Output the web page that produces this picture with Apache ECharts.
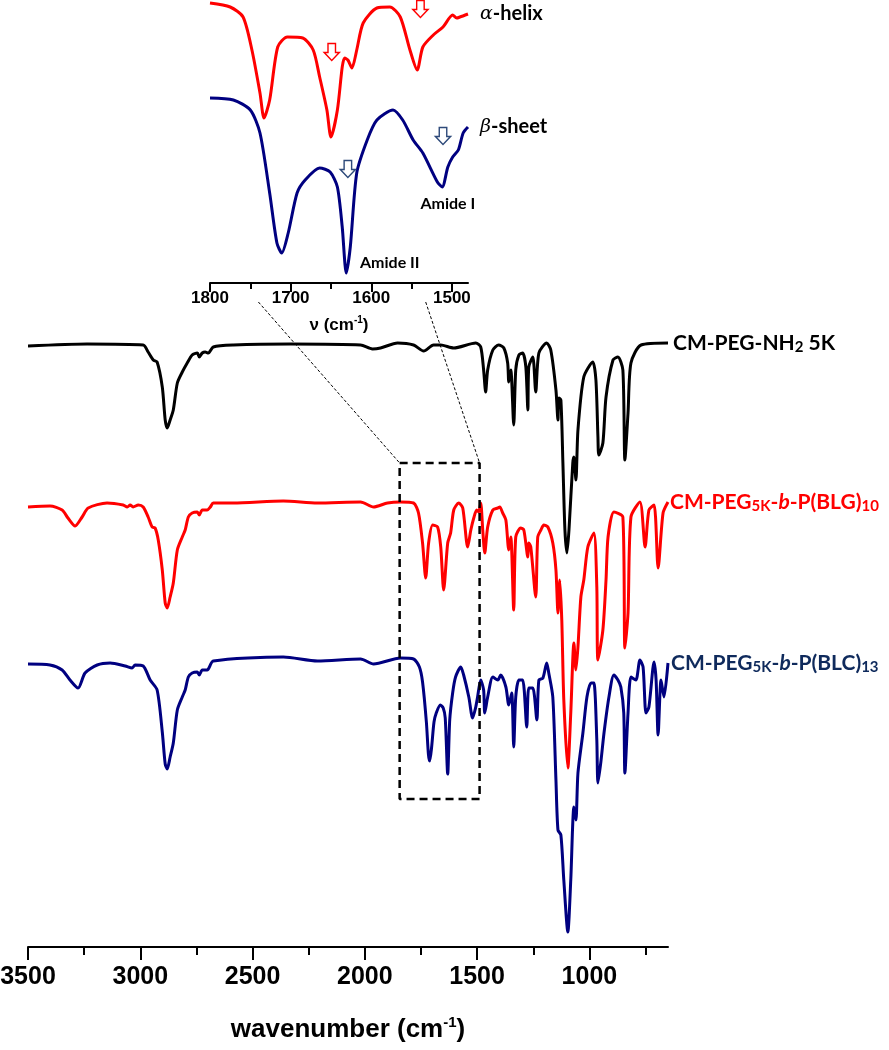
<!DOCTYPE html>
<html>
<head>
<meta charset="utf-8">
<script src="https://cdn.jsdelivr.net/npm/echarts@6.0.0/dist/echarts.min.js"></script>
<style>
html,body{margin:0;padding:0;background:#fff;}
#chart{width:889px;height:1050px;}
</style>
</head>
<body>
<div id="chart"></div>
<script>
// ---------- DATA (wavenumber cm-1, offset transmittance a.u.) ----------
const mainTicks = [3500, 3000, 2500, 2000, 1500, 1000];
const mainMinorTicks = [3250, 2750, 2250, 1750, 1250, 750];
const insetTicks = [1800, 1700, 1600, 1500];
const insetMinorTicks = [1750, 1650, 1550];

const blackSpectrum = [
[3500,60.1],[3237,60.3],[2987,60.2],[2965,59.5],[2942,58.7],[2925,58.5],[2902,56.0],[2889,52.7],[2880,51.9],[2867,52.7],[2853,53.7],[2835,56.4],[2813,57.5],[2791,58.4],[2769,59.2],[2746,59.4],[2737,59.0],[2724,59.4],[2711,59.5],[2697,59.4],[2675,60.0],[2586,60.2],[2331,60.3],[2019,60.2],[1966,59.8],[1930,59.9],[1854,60.4],[1783,60.2],[1738,59.6],[1694,60.2],[1662,60.2],[1604,59.9],[1506,60.4],[1484,60.0],[1471,57.7],[1462,55.5],[1453,57.7],[1430,59.7],[1404,60.2],[1381,59.9],[1364,58.4],[1359,56.5],[1350,57.7],[1337,52.2],[1328,57.7],[1314,59.2],[1297,59.4],[1283,58.0],[1274,53.7],[1270,58.0],[1252,59.0],[1239,55.5],[1225,59.4],[1190,60.4],[1172,59.7],[1149,55.7],[1140,52.7],[1136,54.9],[1127,54.7],[1118,48.4],[1109,41.7],[1100,39.4],[1091,41.7],[1074,48.4],[1069,49.0],[1060,46.7],[1051,51.7],[1025,57.0],[985,58.5],[971,56.7],[962,51.0],[958,49.2],[940,50.4],[926,55.0],[895,58.7],[873,59.0],[851,57.7],[842,48.7],[828,53.4],[815,58.4],[770,60.2],[650,60.4]
];

const redSpectrum = [
[3500,44.0],[3402,44.1],[3348,43.7],[3322,42.9],[3290,42.1],[3259,43.0],[3232,43.9],[3148,44.4],[3076,44.2],[3058,44.0],[3045,44.2],[3032,44.0],[3009,44.2],[2987,44.0],[2965,43.0],[2947,42.0],[2934,41.9],[2920,40.7],[2902,37.7],[2889,34.4],[2880,33.9],[2867,35.0],[2853,36.4],[2835,39.7],[2813,41.0],[2800,41.7],[2786,43.0],[2769,43.4],[2746,43.5],[2737,43.2],[2724,43.7],[2702,43.7],[2688,44.0],[2675,44.4],[2586,44.4],[2363,44.6],[2211,44.4],[2019,44.5],[1961,44.0],[1899,44.4],[1841,44.5],[1783,44.4],[1761,43.4],[1743,40.4],[1729,36.9],[1716,40.4],[1698,42.2],[1676,42.0],[1662,40.0],[1649,35.7],[1631,40.4],[1618,41.4],[1604,43.7],[1582,44.4],[1564,43.9],[1542,40.0],[1528,41.7],[1515,42.9],[1502,43.7],[1493,43.5],[1484,44.4],[1475,41.7],[1466,39.4],[1453,42.0],[1430,43.7],[1408,43.9],[1399,44.0],[1386,43.4],[1372,42.7],[1359,39.7],[1350,41.0],[1337,33.7],[1328,41.0],[1306,41.9],[1292,41.7],[1274,39.0],[1270,40.4],[1261,40.0],[1239,35.0],[1230,41.0],[1216,41.7],[1203,42.2],[1185,42.0],[1163,40.4],[1149,37.7],[1140,33.4],[1132,36.7],[1123,32.7],[1114,24.7],[1096,17.9],[1083,23.4],[1069,30.4],[1060,27.7],[1051,30.0],[1038,35.0],[1025,36.7],[1007,40.0],[980,41.4],[967,36.0],[962,28.7],[940,31.7],[926,36.7],[917,41.0],[891,43.5],[851,43.0],[842,29.9],[828,33.4],[815,43.0],[775,44.5],[752,40.0],[735,43.7],[712,44.2],[694,37.9],[672,43.4],[650,44.5]
];

const blueSpectrum = [
[3500,28.3],[3402,28.2],[3348,27.7],[3313,26.7],[3277,25.9],[3246,27.4],[3192,28.2],[3134,28.4],[3067,28.1],[3036,27.9],[3023,28.2],[2987,28.1],[2956,26.7],[2925,25.7],[2902,21.5],[2889,18.3],[2880,17.8],[2867,19.0],[2853,20.4],[2835,23.7],[2813,25.0],[2800,25.7],[2786,27.0],[2769,27.4],[2746,27.5],[2737,27.2],[2724,27.7],[2702,27.7],[2675,28.6],[2363,29.0],[2211,28.6],[2019,28.8],[1961,28.3],[1841,28.9],[1783,28.8],[1757,28.0],[1743,26.5],[1726,22.5],[1717,19.3],[1711,18.6],[1703,19.9],[1692,22.5],[1682,23.4],[1664,24.2],[1651,23.9],[1642,22.9],[1631,17.3],[1622,22.7],[1609,25.4],[1596,27.0],[1573,28.0],[1560,27.2],[1537,25.0],[1520,22.9],[1506,24.0],[1498,25.0],[1484,26.7],[1471,25.7],[1466,23.4],[1453,25.0],[1430,27.0],[1408,26.7],[1395,27.2],[1372,26.0],[1359,24.2],[1346,25.4],[1337,20.0],[1328,25.0],[1314,26.7],[1297,26.7],[1279,22.0],[1270,25.9],[1252,25.9],[1234,22.7],[1225,26.7],[1207,26.9],[1190,28.4],[1181,27.4],[1163,25.0],[1149,16.7],[1140,11.7],[1127,11.2],[1114,6.7],[1096,1.5],[1083,6.7],[1069,14.0],[1060,12.7],[1051,17.4],[1029,21.4],[1011,25.0],[993,26.4],[980,26.4],[967,20.7],[962,16.4],[949,18.5],[935,21.4],[913,25.0],[891,27.2],[873,26.7],[860,26.0],[847,23.4],[842,17.4],[828,23.4],[815,27.0],[793,26.7],[775,28.7],[761,28.0],[748,23.4],[735,24.0],[712,28.5],[703,26.7],[694,21.2],[681,26.7],[668,25.0],[650,28.4]
];

const insetRed = [
[1800,28.0],[1775,27.6],[1759,26.6],[1748,23.3],[1738,19.0],[1733,16.5],[1726,18.3],[1716,23.6],[1704,24.6],[1685,24.5],[1672,23.3],[1664,20.6],[1655,17.3],[1650,14.6],[1642,17.3],[1636,21.6],[1633,22.5],[1629,22.3],[1624,21.5],[1618,23.3],[1610,26.0],[1593,27.5],[1577,27.6],[1564,26.6],[1552,23.3],[1543,21.3],[1536,23.6],[1523,24.8],[1511,25.6],[1499,26.8],[1494,26.5],[1490,26.6],[1480,26.9]
];

const insetBlue = [
[1800,18.5],[1771,18.3],[1750,17.3],[1738,15.0],[1726,9.0],[1717,4.0],[1711,3.0],[1703,5.0],[1692,9.0],[1682,10.3],[1664,11.5],[1651,11.1],[1642,9.6],[1636,5.6],[1631,1.0],[1626,3.6],[1618,11.0],[1605,14.3],[1593,16.3],[1573,17.3],[1561,16.3],[1548,14.3],[1536,13.0],[1518,10.1],[1512,9.6],[1505,11.6],[1499,12.6],[1492,13.3],[1486,15.0],[1480,15.6]
];

// annotations
const zoomBox = [[1845,48.4],[1489,48.4],[1489,14.8],[1845,14.8],[1845,48.4]];
const zoomLinkLeft = [[2474,64.5],[1845,48.4]];
const zoomLinkRight = [[1729,64.5],[1489,48.4]];
const redArrows = [[1649,23.1],[1539,27.4]];
const blueArrows = [[1629,11.4],[1511,14.7]];
const amideLabels = [{name:'Amide I', coord:[1505,7.9]}, {name:'Amide II', coord:[1577,2.0]}];

// ---------- CHART ----------
const RED = '#ff0000', NAVY = '#000080', BLACK = '#000000';
const LABEL_NAVY = '#0f2a5c';
const labelFont = 'Lato, "Open Sans", sans-serif';
const arialFont = '"Liberation Sans", Arial, sans-serif';
const arrowPath = 'path://M3,0 L9,0 L9,9 L12,9 L6,17 L0,9 L3,9 Z';

function richFor(color){
  return {
    n:{fontFamily:labelFont,fontWeight:'bold',fontSize:21,color:color,lineHeight:24},
    s:{fontFamily:labelFont,fontWeight:'bold',fontSize:15,color:color,lineHeight:15,verticalAlign:'bottom'},
    i:{fontFamily:labelFont,fontWeight:'bold',fontStyle:'italic',fontSize:21,color:color,lineHeight:24}
  };
}

// label attached to the last point of a curve, drawn to its right
function endTag(data, text, rich, dist){
  return {symbol:'circle', symbolSize:0, silent:true, animation:false,
    label:{show:true, position:'right', distance:dist, formatter:text, rich:rich},
    data:[{coord:data[data.length-1]}]};
}

const chart = echarts.init(document.getElementById('chart'), null, {renderer:'canvas'});

function lineSeries(name, data, color, xi, yi, extra){
  return Object.assign({
    name:name, type:'line', data:data, xAxisIndex:xi, yAxisIndex:yi,
    showSymbol:false, symbol:'none', smooth:0.25, clip:false,
    lineStyle:{color:color, width:3}, itemStyle:{color:color},
    silent:true, animation:false
  }, extra||{});
}

const greekRich = {
  g:{fontFamily:'"DejaVu Serif", serif', fontStyle:'italic', fontSize:19, color:'#000'},
  n:{fontFamily:labelFont, fontWeight:'bold', fontSize:20, color:'#000'}
};

const option = {
  animation:false,
  backgroundColor:'#ffffff',
  grid:[
    {left:28, right:221, top:47, bottom:103, outerBoundsMode:'none', containLabel:false},
    {left:210, right:421, top:0, height:283, outerBoundsMode:'none', containLabel:false}
  ],
  xAxis:[
    {gridIndex:0, type:'value', inverse:true, min:650, max:3500, position:'bottom',
     axisLine:{show:true, onZero:false, lineStyle:{color:'#000', width:2}},
     axisTick:{show:true, customValues:mainTicks, length:13, inside:false, lineStyle:{color:'#000', width:2}},
     axisLabel:{show:true, customValues:mainTicks, formatter:v=>String(v), margin:18, fontFamily:arialFont, fontWeight:'bold', fontSize:25, color:'#000'},
     splitLine:{show:false},
     name:'wavenumber (cm{sup|-1})', nameLocation:'middle', nameGap:68,
     nameTextStyle:{fontFamily:arialFont, fontWeight:'bold', fontSize:26, color:'#000',
       rich:{sup:{fontFamily:arialFont, fontWeight:'bold', fontSize:15, color:'#000', verticalAlign:'top', lineHeight:30}}}
    },
    {gridIndex:0, type:'value', inverse:true, min:650, max:3500, position:'bottom',
     axisLine:{show:false, onZero:false},
     axisTick:{show:true, customValues:mainMinorTicks, length:8, lineStyle:{color:'#000', width:2}},
     axisLabel:{show:false}, splitLine:{show:false}},
    {gridIndex:1, type:'value', inverse:true, min:1480, max:1800, position:'bottom',
     axisLine:{show:true, onZero:false, lineStyle:{color:'#000', width:2}},
     axisTick:{show:true, customValues:insetTicks, length:9, lineStyle:{color:'#000', width:2}},
     axisLabel:{show:true, customValues:insetTicks, formatter:v=>String(v), margin:7, fontFamily:arialFont, fontWeight:'bold', fontSize:17, color:'#000'},
     splitLine:{show:false},
     name:'\u03bd (cm{sup|-1})', nameLocation:'middle', nameGap:32,
     nameTextStyle:{fontFamily:arialFont, fontWeight:'bold', fontSize:17, color:'#000',
       rich:{sup:{fontFamily:arialFont, fontWeight:'bold', fontSize:10, color:'#000', verticalAlign:'top', lineHeight:20}}}
    },
    {gridIndex:1, type:'value', inverse:true, min:1480, max:1800, position:'bottom',
     axisLine:{show:false, onZero:false},
     axisTick:{show:true, customValues:insetMinorTicks, length:6, lineStyle:{color:'#000', width:2}},
     axisLabel:{show:false}, splitLine:{show:false}}
  ],
  yAxis:[
    {gridIndex:0, type:'value', min:0, max:90, show:false},
    {gridIndex:1, type:'value', min:0, max:28.3, show:false}
  ],
  series:[
    lineSeries('CM-PEG-NH2 5K', blackSpectrum, BLACK, 0, 0, {
      markPoint:endTag(blackSpectrum, '{n|CM-PEG-NH}{s|2}{n| 5K}', richFor(BLACK), 5)
    }),
    lineSeries('CM-PEG5K-b-P(BLG)10', redSpectrum, RED, 0, 0, {
      markPoint:endTag(redSpectrum, '{n|CM-PEG}{s|5K}{n|-}{i|b}{n|-P(BLG)}{s|10}', richFor(RED), 2)
    }),
    lineSeries('CM-PEG5K-b-P(BLC)13', blueSpectrum, NAVY, 0, 0, {
      markPoint:endTag(blueSpectrum, '{n|CM-PEG}{s|5K}{n|-}{i|b}{n|-P(BLC)}{s|13}', richFor(LABEL_NAVY), 3)
    }),
    lineSeries('zoom box', zoomBox, BLACK, 0, 0, {smooth:false, lineStyle:{color:'#000', width:2.5, type:[8,5]}, z:5}),
    lineSeries('link left', zoomLinkLeft, BLACK, 0, 0, {smooth:false, lineStyle:{color:'#000', width:1, type:[3,2]}, z:1}),
    lineSeries('link right', zoomLinkRight, BLACK, 0, 0, {smooth:false, lineStyle:{color:'#000', width:1, type:[3,2]}, z:1}),
    lineSeries('alpha-helix', insetRed, RED, 2, 1, {
      markPoint:{symbol:arrowPath, symbolSize:[15,17], silent:true, animation:false,
        itemStyle:{color:'#ffffff', borderColor:RED, borderWidth:1.5},
        label:{show:false},
        data:redArrows.map(c=>({coord:c}))}
    }),
    lineSeries('beta-sheet', insetBlue, NAVY, 2, 1, {
      markPoint:{symbol:arrowPath, symbolSize:[15,17], silent:true, animation:false,
        itemStyle:{color:'#ffffff', borderColor:'#2e4a7a', borderWidth:1.5},
        label:{show:false},
        data:blueArrows.map(c=>({coord:c}))}
    }),
    {type:'scatter', xAxisIndex:2, yAxisIndex:1, symbolSize:0, silent:true, animation:false,
     itemStyle:{opacity:1},
     data:[
       {value:insetRed[insetRed.length-1], label:{position:'right', distance:12, formatter:'{g|\u03b1}{n|-helix}', rich:greekRich}},
       {value:insetBlue[insetBlue.length-1], label:{position:'right', distance:12, formatter:'{g|\u03b2}{n|-sheet}', rich:greekRich}}
     ].concat(amideLabels.map(a=>({value:a.coord, label:{position:'inside', formatter:a.name, fontFamily:labelFont, fontWeight:'bold', fontSize:16, color:'#000'}}))),
     label:{show:true, color:'#000', opacity:1}}
  ]
};
chart.setOption(option);
</script>
</body>
</html>
